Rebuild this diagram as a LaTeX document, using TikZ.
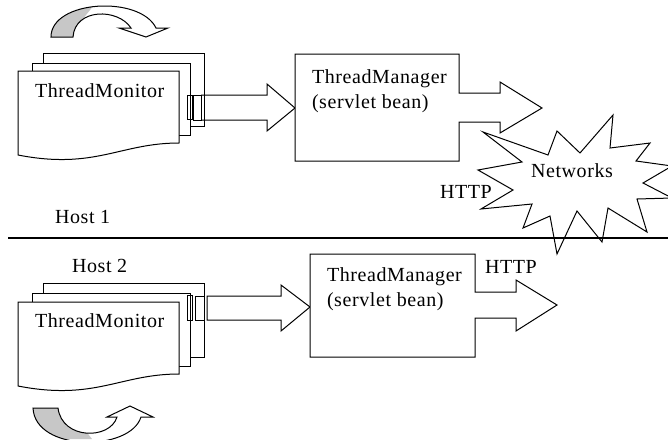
\documentclass[tikz,border=0pt]{standalone}
\usepackage{fontspec}
\newfontfamily\diafont[LetterSpace=3]{Liberation Serif}
\begin{document}
\begin{tikzpicture}[x=1pt,y=-1pt,line width=1pt,line join=miter,
  every node/.style={inner sep=0pt,outer sep=0pt,font=\diafont\fontsize{20}{23}\selectfont},
  txt/.style={anchor=base west},
  sheet/.style={draw,fill=white},
  block/.style={draw,fill=white},
  greyband/.style={fill=black!22},
  topturn/.style={insert path={(51,37) .. controls (51,0) and (140,-5) .. (156,28) -- (168,28) -- (146,37) -- (119,28) -- (131,28) .. controls (118,8) and (75,8) .. (73,37) -- cycle}},
  lowturn/.style={insert path={(33,408) -- (58,408) .. controls (62,440) and (110,440) .. (117,417) -- (107,417) -- (130,406) -- (153,417) -- (141,417) .. controls (130,452) and (35,452) .. (33,408) -- cycle}}]

\fill[white] (0,0) rectangle (668,439);
\useasboundingbox (0,0) rectangle (668,439);

% ---------- Host 1 ----------
% curved loop arrow above the monitor stack
\path[fill=white,topturn];
\begin{scope}
  \clip (0,0) -- (98,0) -- (82,20) -- (82,40) -- (0,40) -- cycle;
  \path[greyband,topturn];
\end{scope}
\path[draw,topturn];

% stack of monitor sheets
\draw[sheet] (43,53) rectangle (204,126);
\draw[sheet] (32,63) rectangle (190,135);
\draw[sheet] (18,71) -- (179,71) -- (179,143) .. controls (120,143) and (95,170) .. (18,155) -- cycle;
\draw (187,95) rectangle (192,119);
\draw (193,95) rectangle (201,120);

% block arrow into the manager
\draw (201,95) -- (267,95) -- (267,84) -- (295,108) -- (267,131) -- (267,120) -- (201,120);

% manager box with outgoing block arrow
\draw[block] (295,54) -- (459,54) -- (459,93) -- (500,93) -- (500,82) -- (542,108)
  -- (500,133) -- (500,122) -- (459,122) -- (459,161) -- (295,161) -- cycle;

% network burst
\draw[fill=white] (483,132) -- (548,155) -- (557,131) -- (580,153) -- (613,115) -- (610,148)
  -- (650,143) -- (636,161) -- (672,166) -- (643,183) -- (672,198) -- (637,199)
  -- (647,232) -- (608,208) -- (602,242) -- (577,211) -- (557,254) -- (550,216)
  -- (523,228) -- (532,204) -- (481,209) -- (513,190) -- (478,170) -- (522,162) -- cycle;

% separator between the hosts
\draw[line width=1.3pt] (8,238) -- (668,238);

% ---------- Host 2 ----------
\draw[sheet] (43,283) rectangle (204,357);
\draw[sheet] (32,293) rectangle (190,366);
\draw[sheet] (18,302) -- (179,302) -- (179,374) .. controls (120,374) and (95,401) .. (18,386) -- cycle;
\draw (187,295) rectangle (192,320);
\draw (195,296) rectangle (204,320);

\draw[block] (207,296) -- (281,296) -- (281,285) -- (310,307) -- (281,331) -- (281,320) -- (207,320) -- cycle;

\draw[block] (310,254) -- (475,254) -- (475,292) -- (516,292) -- (516,280) -- (557,305)
  -- (516,331) -- (516,318) -- (475,318) -- (475,357) -- (310,357) -- cycle;

% curved loop arrow below the monitor stack
\path[fill=white,lowturn];
\begin{scope}
  \clip (0,400) -- (62,400) -- (92,439) -- (0,439) -- cycle;
  \path[greyband,lowturn];
\end{scope}
\path[draw,lowturn];

% ---------- labels ----------
\node[txt] (mon1) at (35,97) {ThreadMonitor};
\node[txt] (mgr1a) at (312,83) {ThreadManager};
\node[txt] (mgr1b) at (312,108) {(servlet bean)};
\node[txt] (net) at (531,177) {Networks};
\node[txt] (http1) at (440,198) {HTTP};
\node[txt] (host1) at (55,223) {Host 1};
\node[txt] (host2) at (72,272) {Host 2};
\node[txt] (http2) at (485,273) {HTTP};
\node[txt] (mon2) at (35,327) {ThreadMonitor};
\node[txt] (mgr2a) at (327,281) {ThreadManager};
\node[txt] (mgr2b) at (327,306) {(servlet bean)};
\end{tikzpicture}
\end{document}
